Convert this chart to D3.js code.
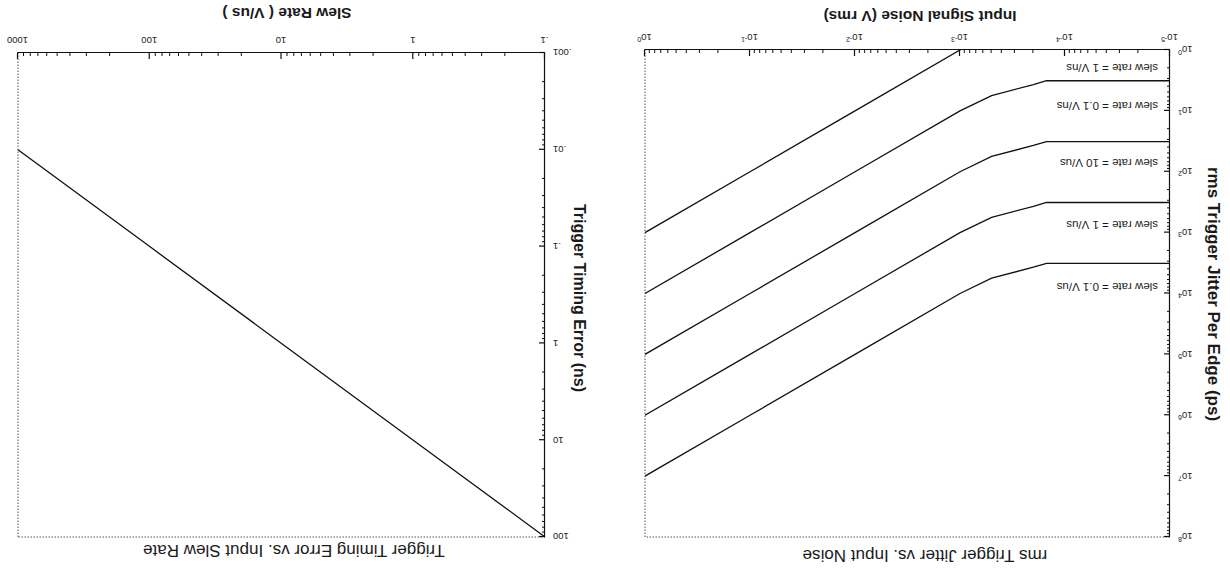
<!DOCTYPE html>
<html><head><meta charset="utf-8">
<script src="https://cdn.jsdelivr.net/npm/d3@7/dist/d3.min.js"></script>
<style>body{margin:0;background:#fff}svg{display:block}text{font-family:"Liberation Sans",Arial,sans-serif;fill:#1a1a1a}</style>
</head><body>
<script>
// ---------- Data: chart 1 (rms trigger jitter vs input noise) ----------
const noiseV = [1, 0.1, 0.01, 0.001, 0.0005, 0.0002, 0.00015, 0.00001];
const slewLabels = ["slew rate = 0.1 V/us", "slew rate = 1 V/us", "slew rate = 10 V/us", "slew rate = 0.1 V/ns", "slew rate = 1 V/ns"];
const jitter_01Vus = [1e7, 1e6, 1e5, 1e4, 5600, 3700, 3200, 3200];
const jitter_1Vus  = [1e6, 1e5, 1e4, 1e3, 560, 370, 320, 320];
const jitter_10Vus = [1e5, 1e4, 1e3, 100, 56, 37, 32, 32];
const jitter_01Vns = [1e4, 1e3, 100, 10, 5.6, 3.7, 3.2, 3.2];
const jitter_1Vns  = [1e3, 100, 10, 1, 0.56, 0.37, 0.32, 0.32];
const labelJitterAt = [7800, 750, 72, 8.3, 2];
const noiseTicks = [1e-5, 1e-4, 1e-3, 1e-2, 1e-1, 1];
const noiseTickExp = ["-5", "-4", "-3", "-2", "-1", "0"];
const jitterTicks = [1, 1e1, 1e2, 1e3, 1e4, 1e5, 1e6, 1e7, 1e8];
const jitterTickExp = ["0", "1", "2", "3", "4", "5", "6", "7", "8"];

// ---------- Data: chart 2 (trigger timing error vs slew rate) ----------
const slewRate = [0.1, 1, 10, 100, 1000];
const timingErr = [100, 10, 1, 0.1, 0.01];
const slewTicks = [0.1, 1, 10, 100, 1000];
const slewTickLabels = [".1", "1", "10", "100", "1000"];
const errTicks = [0.001, 0.01, 0.1, 1, 10, 100];
const errTickLabels = [".001", ".01", ".1", "1", "10", "100"];

const svg = d3.select("body").append("svg").attr("width", 1230).attr("height", 571);
// whole scanned page is upside down
const root = svg.append("g").attr("transform", "rotate(180,615,285.5)");

function isMajor(d){ const l = Math.log10(d); return Math.abs(l - Math.round(l)) < 1e-9; }

function frame(g, x, y){
  const [x0, x1] = x.range(), [y1, y0] = y.range();
  g.append("line").attr("x1", x0).attr("x2", x1).attr("y1", y0).attr("y2", y0)
    .attr("stroke", "#555").attr("stroke-width", 1).attr("stroke-dasharray", "1.5,1.5");
  g.append("line").attr("x1", x1).attr("x2", x1).attr("y1", y0).attr("y2", y1)
    .attr("stroke", "#555").attr("stroke-width", 1).attr("stroke-dasharray", "1.5,1.5");
}

function axes(g, x, y, xMaj, xFmt, yMaj, yFmt){
  const [x0] = x.range(), [y1] = y.range();
  const minorX = x.ticks().filter(d => !isMajor(d));
  const minorY = y.ticks().filter(d => !isMajor(d));
  g.append("g").attr("transform", `translate(0,${y1})`)
    .call(d3.axisBottom(x).tickValues(minorX).tickSize(-3).tickSizeOuter(0).tickFormat(""))
    .call(s => s.selectAll("line,path").attr("stroke", "#111"));
  g.append("g").attr("transform", `translate(${x0},0)`)
    .call(d3.axisLeft(y).tickValues(minorY).tickSize(-3).tickSizeOuter(0).tickFormat(""))
    .call(s => s.selectAll("line,path").attr("stroke", "#111"));
  const gx = g.append("g").attr("transform", `translate(0,${y1})`)
    .call(d3.axisBottom(x).tickValues(xMaj).tickSize(-6).tickSizeOuter(0).tickPadding(9).tickFormat(""));
  gx.selectAll("line,path").attr("stroke", "#111").attr("stroke-width", 1.2);
  gx.selectAll(".tick text").each(function(d, i){ xFmt(d3.select(this), i); })
    .attr("font-size", 9.5).attr("fill", "#222");
  const gy = g.append("g").attr("transform", `translate(${x0},0)`)
    .call(d3.axisLeft(y).tickValues(yMaj).tickSize(-6).tickSizeOuter(0).tickPadding(8).tickFormat(""));
  gy.selectAll("line,path").attr("stroke", "#111").attr("stroke-width", 1.2);
  gy.selectAll(".tick text").each(function(d, i){ yFmt(d3.select(this), i); })
    .attr("font-size", 9.5).attr("fill", "#222");
}

function powLabel(exps){
  return (t, i) => {
    t.text("10");
    t.append("tspan").attr("dy", "-0.45em").attr("font-size", 7).text(exps[i]);
  };
}

// ================= Chart 1 =================
{
  const g = root.append("g");
  const x = d3.scaleLog().domain([1e-5, 1]).range([60, 585]);
  const y = d3.scaleLog().domain([1, 1e8]).range([521, 34]);
  g.append("clipPath").attr("id", "clipA").append("rect")
    .attr("x", 60).attr("y", 34).attr("width", 525).attr("height", 487);
  frame(g, x, y);
  axes(g, x, y, noiseTicks, powLabel(noiseTickExp), jitterTicks, powLabel(jitterTickExp));

  const series = [jitter_01Vus, jitter_1Vus, jitter_10Vus, jitter_01Vns, jitter_1Vns];
  const line = d3.line().x((d, i) => x(noiseV[i])).y(d => y(d));
  g.append("g").attr("clip-path", "url(#clipA)").selectAll("path").data(series).join("path")
    .attr("d", line).attr("fill", "none").attr("stroke", "#111").attr("stroke-width", 1.3);

  g.selectAll("text.slew").data(slewLabels).join("text").attr("class", "slew")
    .attr("x", 72).attr("y", (d, i) => y(labelJitterAt[i])).attr("dy", "0.35em")
    .attr("font-size", 11.5).text(d => d);

  g.append("text").attr("x", 305).attr("y", 21).attr("text-anchor", "middle")
    .attr("font-size", 17).text("rms Trigger Jitter vs. Input Noise");
  g.append("text").attr("x", 310).attr("y", 560).attr("text-anchor", "middle")
    .attr("font-size", 15.5).attr("font-weight", "bold").text("Input Signal Noise (V rms)");
  g.append("text").attr("transform", "translate(22,277) rotate(-90)").attr("text-anchor", "middle")
    .attr("font-size", 17).attr("font-weight", "bold").text("rms Trigger Jitter Per Edge (ps)");
}

// ================= Chart 2 =================
{
  const g = root.append("g");
  const x = d3.scaleLog().domain([0.1, 1000]).range([685, 1212]);
  const y = d3.scaleLog().domain([0.001, 100]).range([518, 34]);
  frame(g, x, y);
  axes(g, x, y, slewTicks, (t, i) => t.text(slewTickLabels[i]), errTicks, (t, i) => t.text(errTickLabels[i]));

  g.append("path").datum(slewRate)
    .attr("d", d3.line().x(d => x(d)).y((d, i) => y(timingErr[i])))
    .attr("fill", "none").attr("stroke", "#111").attr("stroke-width", 1.3);

  g.append("text").attr("x", 936).attr("y", 26).attr("text-anchor", "middle")
    .attr("font-size", 17).text("Trigger Timing Error vs. Input Slew Rate");
  g.append("text").attr("x", 943).attr("y", 563).attr("text-anchor", "middle")
    .attr("font-size", 15.5).attr("font-weight", "bold").text("Slew Rate ( V/us )");
  g.append("text").attr("transform", "translate(656,273) rotate(-90)").attr("text-anchor", "middle")
    .attr("font-size", 16).attr("font-weight", "bold").text("Trigger Timing Error (ns)");
}
</script>
</body></html>
